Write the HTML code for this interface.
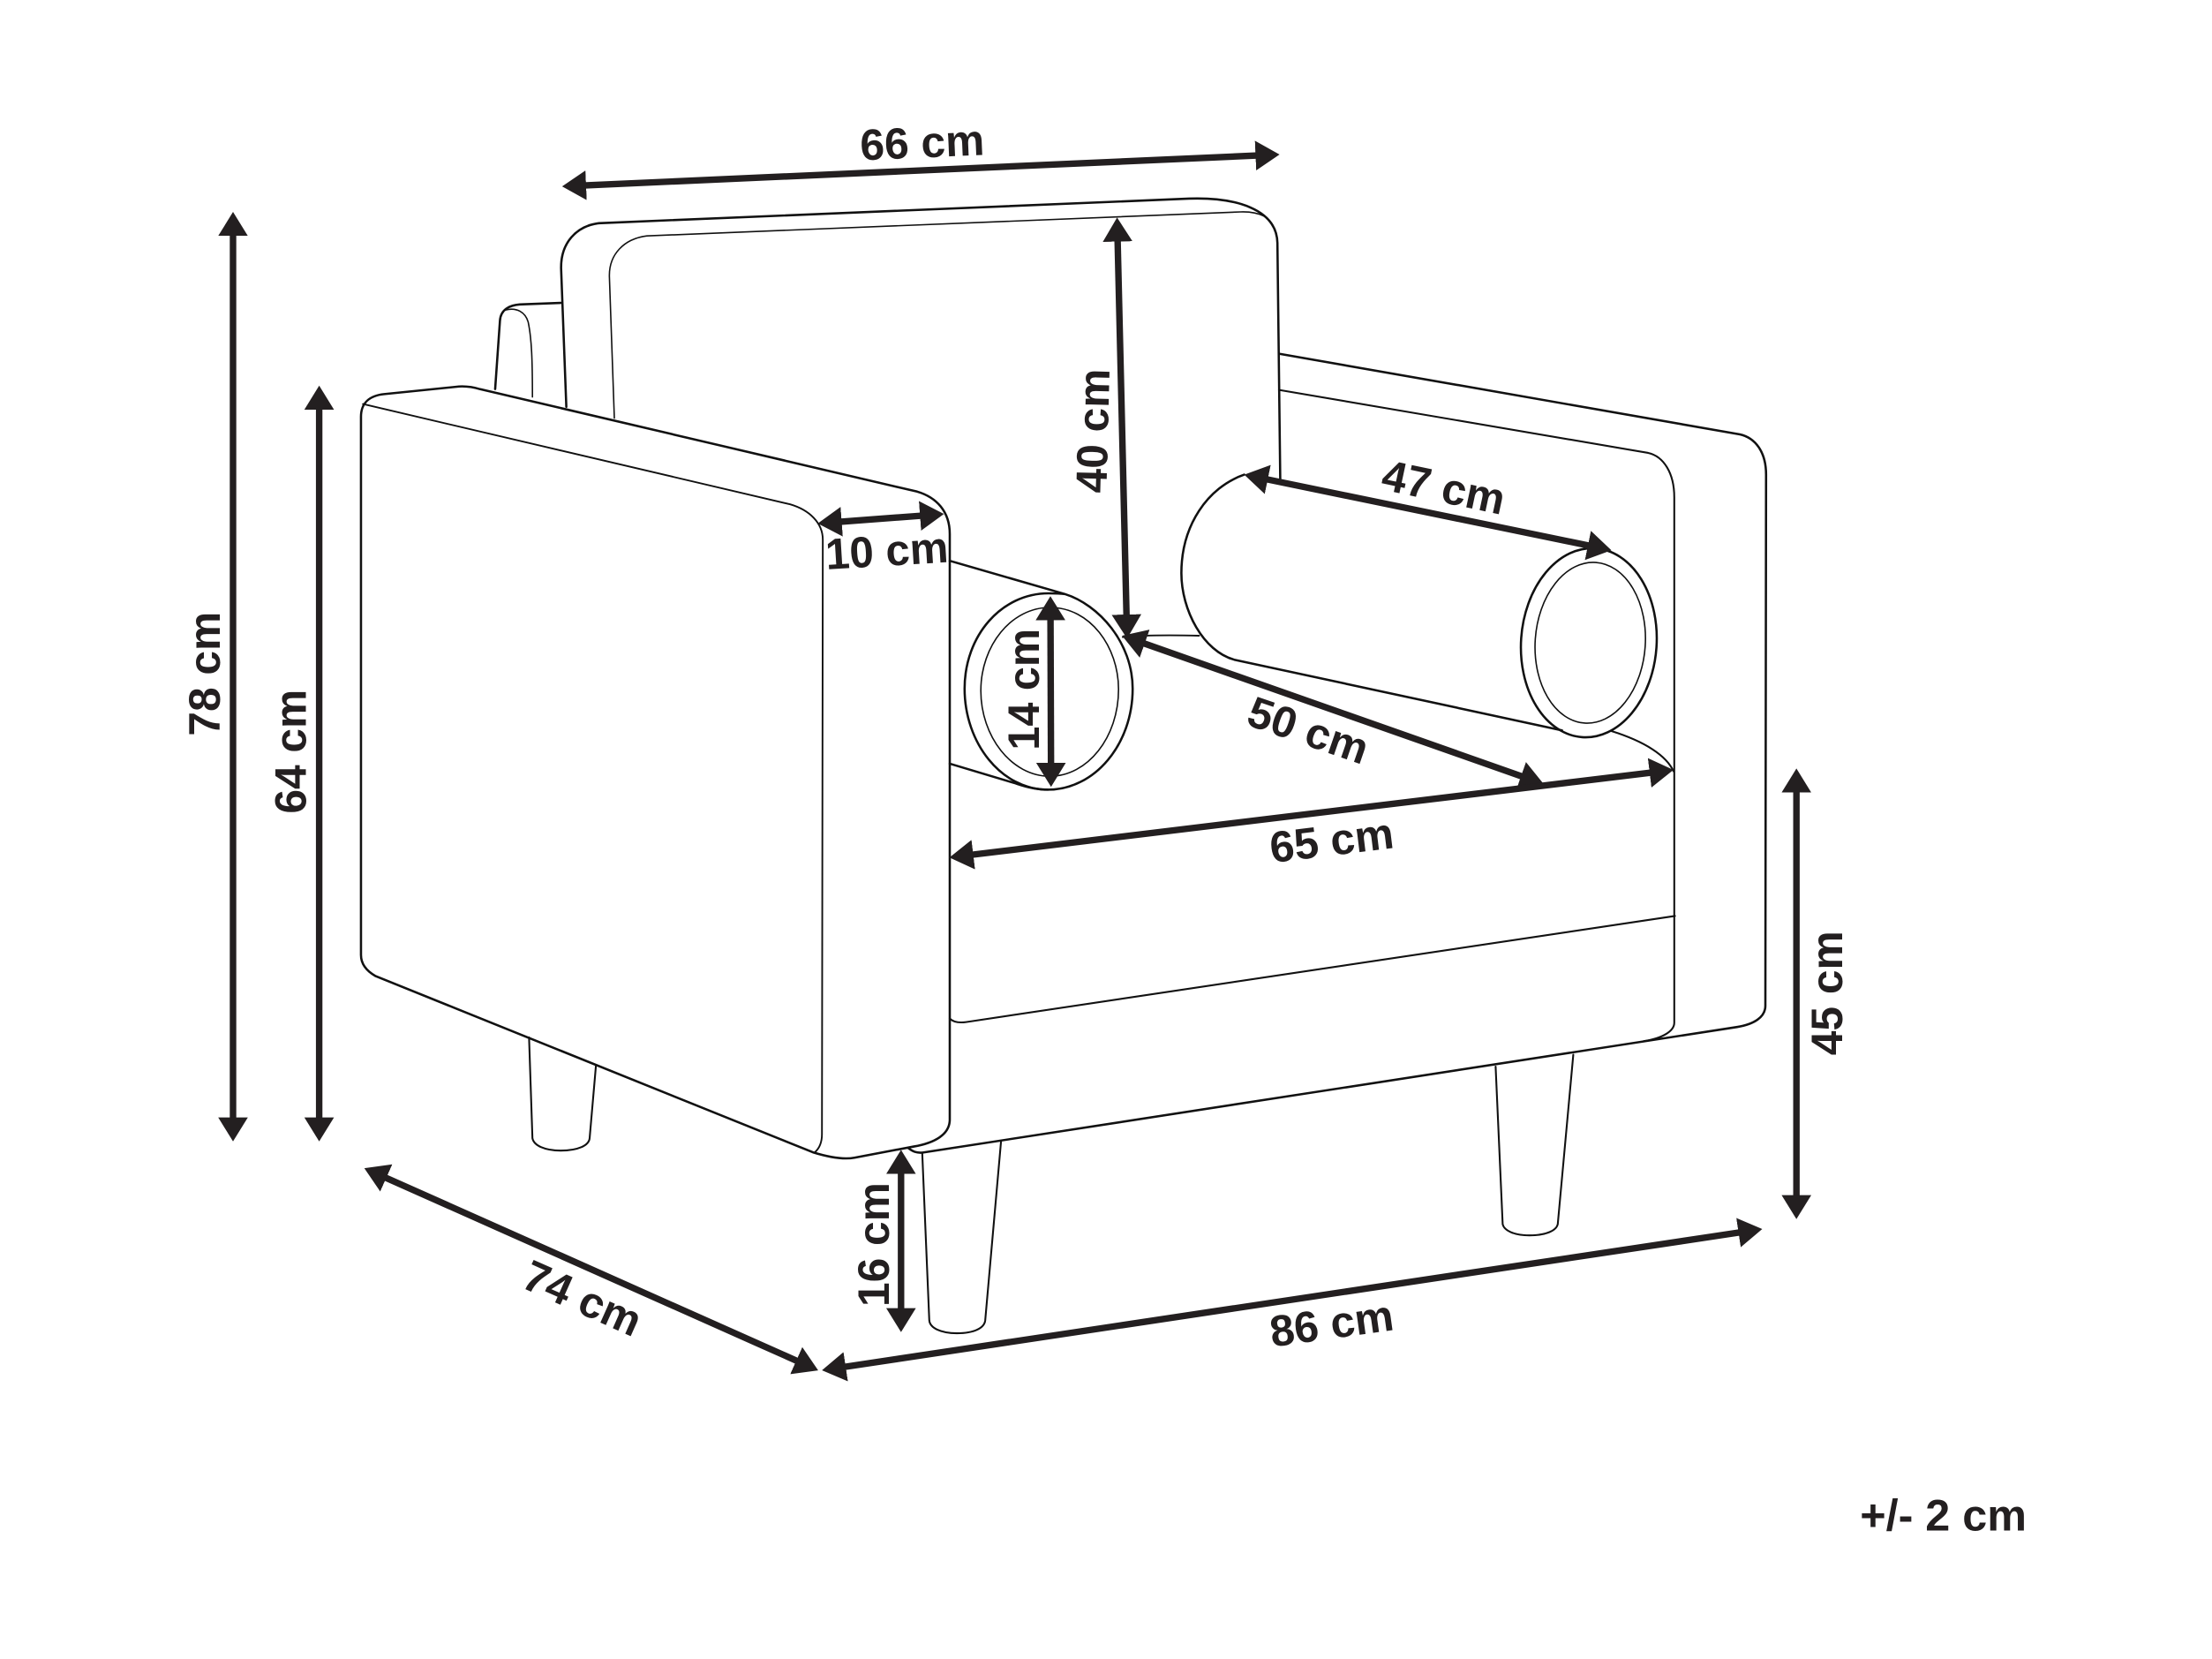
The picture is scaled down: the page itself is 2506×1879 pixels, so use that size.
<!DOCTYPE html>
<html><head><meta charset="utf-8"><style>
html,body{margin:0;padding:0;background:#fff}
svg{display:block}
text{font-family:"Liberation Sans",sans-serif;font-weight:bold;font-size:31px;fill:#231f20;text-anchor:middle}
.o{fill:none;stroke:#111;stroke-width:1.6;stroke-linejoin:round;stroke-linecap:round}
.t{fill:none;stroke:#111;stroke-width:1;stroke-linejoin:round;stroke-linecap:round}
.a{stroke:#231f20;stroke-width:4.6;fill:none;marker-start:url(#h);marker-end:url(#h)}
</style></head><body>
<svg xmlns="http://www.w3.org/2000/svg" width="2506" height="1879" viewBox="0 0 1566.25 1174.375">
<defs><marker id="h" markerUnits="userSpaceOnUse" markerWidth="20" markerHeight="24" viewBox="0 -12 20 24" refX="7" refY="0" orient="auto-start-reverse"><path d="M0,-10.5 L17,0 L0,10.5 Z" fill="#231f20"/></marker></defs>
<rect width="1566.25" height="1174.375" fill="#fff"/>

<!-- back -->
<path class="o" d="M401,288 L397.3,190 C397,172 408,160 424,158 L842,140.6 C875,139.5 904,148 904.5,172 L906.5,339"/>
<path class="t" d="M435,296 L431.5,196 C431,180 442,169 458,167 L878.5,150 C885,149.8 890,150.5 895,153"/>
<!-- small far arm -->
<path class="o" d="M350.6,275.4 L354,227 C354.5,219 361,216 368,215.5 L397,214.4"/>
<path class="t" d="M358,219.4 C366,217.5 372,221 374,228 C376.5,240 377,255 377,281"/>
<!-- front arm -->
<path class="o" d="M255.6,676 L255.6,295 C255.6,285 262,280 272,279 L325,273.6 C330,273.3 335,274 340,275.5 L649.4,348 C663,352 672.5,362 672.5,378 L672.5,792.5 C672.5,803 662,809 647,811.6 L605,819.5 C598,820.8 588,819.5 575.6,815.7 L266,691 C259,687 255.6,682 255.6,676 Z"/>
<path class="t" style="stroke-width:1.2" d="M257,286 L559.5,357 C573,361 582.6,370 582.6,382 L582,803 C582,809 580,813 577,815.7"/>
<!-- left far leg -->
<path class="o" style="stroke-width:1.3" d="M374.6,734.3 L377,805.7 C378,811 386,814.5 397,814.5 C409,814.5 417,811 417.5,805.7 L422,754"/>
<!-- front leg -->
<path class="o" style="stroke-width:1.3" d="M653,816 L658,934.7 C658.5,940 666,943.8 677.5,943.8 C690,943.8 697,940 697.6,934.7 L708.8,808"/>
<!-- frame -->
<path class="o" d="M643,812.6 C646,815 649,816.5 654,815.8 L1230,727 C1242,725 1250,720 1250,712 L1250.5,336 C1250.5,320 1243,310 1232,307.5 L905.6,250.4"/>
<path class="o" style="stroke-width:1.3" d="M905.6,276 L1167,320.6 C1178,323 1185.5,335 1185.5,352 L1185.5,724 C1185.5,730 1177,735 1164,737"/>
<path class="o" style="stroke-width:1.3" d="M1186,648.4 L684,723.5 C679,724.2 675,723.5 672.5,721"/>
<!-- right back leg -->
<path class="o" style="stroke-width:1.3" d="M1059,755 L1064,866.6 C1065,871 1072,874.5 1083,874.5 C1095,874.5 1102,871 1103,866.6 L1114,746.6"/>
<!-- front bolster -->
<path class="o" d="M672.5,397 L754,420.5 C778,428 802,455 802,487.5 C802,527 775,559 742,559 C709,559 683,526 683,487.5 C683,450 709,420 742.5,420 C746,420 750,420 754,420.5"/>
<path class="t" d="M743.5,430 C772,430 792,458 792,488 C792,522 770,549.5 743.5,549.5 C716,549.5 694.5,521 694.5,489 C694.5,457 716,430 743.5,430 Z"/>
<path class="o" d="M672.5,540.6 L719,554.5 C726,557 734,559 742,559"/>
<!-- rear bolster -->
<path class="o" d="M881,336 C855,345 836.5,372 836.5,405.7 C836.5,432 852,461 874,467 L1106,517"/>
<ellipse class="o" cx="1125" cy="455" rx="48" ry="67" transform="rotate(4 1125 455)"/>
<ellipse class="t" cx="1126" cy="455" rx="39" ry="57" transform="rotate(4 1126 455)"/>
<path class="t" style="stroke-width:1.2" d="M795,451 C810,449.5 830,449.5 849,450"/>
<path class="o" style="stroke-width:1.3" d="M1141,517.5 C1165,525 1180,535 1185,546"/>

<!-- dimension arrows -->
<line class="a" x1="408" y1="131.5" x2="896" y2="109.8"/>
<line class="a" x1="165" y1="160" x2="165" y2="798"/>
<line class="a" x1="226" y1="283" x2="226" y2="798"/>
<line class="a" x1="791.2" y1="164" x2="797.8" y2="442"/>
<line class="a" x1="890.8" y1="338" x2="1131.2" y2="387.5"/>
<line class="a" x1="589" y1="369.8" x2="658.4" y2="364.6"/>
<line class="a" x1="743.8" y1="432" x2="744.2" y2="547"/>
<line class="a" x1="803.9" y1="453.3" x2="1083.6" y2="551.7"/>
<line class="a" x1="682.2" y1="605.8" x2="1175" y2="546.2"/>
<line class="a" x1="1272" y1="554" x2="1272" y2="853"/>
<line class="a" x1="638" y1="824" x2="638" y2="933"/>
<line class="a" x1="267.1" y1="831" x2="570.2" y2="966"/>
<line class="a" x1="591.9" y1="968.5" x2="1237.9" y2="871.5"/>

<!-- labels -->
<text transform="translate(653,102) rotate(-2.5)" y="9.5" textLength="88" lengthAdjust="spacingAndGlyphs">66 cm</text>
<text transform="translate(146,477) rotate(-90)" y="9.5" textLength="88" lengthAdjust="spacingAndGlyphs">78 cm</text>
<text transform="translate(207,532) rotate(-90)" y="9.5" textLength="88" lengthAdjust="spacingAndGlyphs">64 cm</text>
<text transform="translate(775,305) rotate(-88.5)" y="9.5" textLength="88" lengthAdjust="spacingAndGlyphs">40 cm</text>
<text transform="translate(1022,346) rotate(12)" y="9.5" textLength="88" lengthAdjust="spacingAndGlyphs">47 cm</text>
<text transform="translate(628,391) rotate(-3.5)" y="9.5" textLength="87" lengthAdjust="spacingAndGlyphs">10 cm</text>
<text transform="translate(726,488) rotate(-90)" y="9.5" textLength="86" lengthAdjust="spacingAndGlyphs">14 cm</text>
<text transform="translate(926,518) rotate(19)" y="9.5" textLength="88" lengthAdjust="spacingAndGlyphs">50 cm</text>
<text transform="translate(943,596) rotate(-7)" y="9.5" textLength="88" lengthAdjust="spacingAndGlyphs">65 cm</text>
<text transform="translate(1295,703) rotate(-90)" y="9.5" textLength="88" lengthAdjust="spacingAndGlyphs">45 cm</text>
<text transform="translate(620,881) rotate(-90)" y="9.5" textLength="88" lengthAdjust="spacingAndGlyphs">16 cm</text>
<text transform="translate(412,920) rotate(24)" y="9.5" textLength="88" lengthAdjust="spacingAndGlyphs">74 cm</text>
<text transform="translate(943,938) rotate(-8)" y="9.5" textLength="88" lengthAdjust="spacingAndGlyphs">86 cm</text>
<text transform="translate(1376,1074)" y="9.5" textLength="118" lengthAdjust="spacingAndGlyphs">+/- 2 cm</text>
</svg>
</body></html>
